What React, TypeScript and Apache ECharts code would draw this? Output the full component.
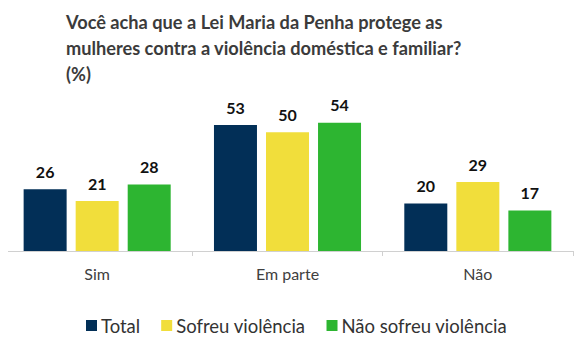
import React, { useEffect, useRef } from "react";
import * as echarts from "echarts";

const titleText = "Você acha que a Lei Maria da Penha protege as\nmulheres contra a violência doméstica e familiar?\n(%)";
const categories = ["Sim", "Em parte", "Não"];
const seriesNames = ["Total", "Sofreu violência", "Não sofreu violência"];
const totalValues = [26, 53, 20];
const sofreuValues = [21, 50, 29];
const naoSofreuValues = [28, 54, 17];
const colors = ["#022f57", "#f1de3b", "#2db531"];

export default function App() {
  const ref = useRef<HTMLDivElement>(null);
  useEffect(() => {
    if (!ref.current) return;
    const chart = echarts.init(ref.current, null, { renderer: "svg" });
    const data = [totalValues, sofreuValues, naoSofreuValues];
    chart.setOption({
      animation: false,
      backgroundColor: "#ffffff",
      title: {
        text: titleText,
        left: 61,
        top: 4,
        textStyle: {
          fontFamily: "Lato",
          fontWeight: "bold",
          fontSize: 18.2,
          lineHeight: 26,
          color: "#3b3b3b",
        },
      },
      legend: {
        left: 81,
        top: 311,
        icon: "rect",
        itemWidth: 11,
        itemHeight: 11,
        itemGap: 21,
        textStyle: { fontFamily: "Lato", fontSize: 18.5, color: "#333333", padding: [0, 0, 0, -1] },
        data: seriesNames,
      },
      grid: { left: 2, right: 13, top: 108.4, bottom: 113, containLabel: false },
      xAxis: {
        type: "category",
        data: categories,
        axisLine: { lineStyle: { color: "#d0d0d0" } },
        axisTick: { show: true, length: 5, lineStyle: { color: "#d0d0d0" } },
        axisLabel: { fontFamily: "Lato", fontSize: 16, color: "#404040", margin: 14 },
      },
      yAxis: {
        type: "value",
        min: 0,
        max: 60,
        show: false,
        splitLine: { show: false },
      },
      series: seriesNames.map((name, i) => ({
        name,
        type: "bar",
        data: data[i],
        barWidth: 43,
        barGap: "21%",
        itemStyle: { color: colors[i] },
        label: {
          show: true,
          position: "top",
          distance: 10,
          fontFamily: "Lato",
          fontWeight: "bold",
          fontSize: 16,
          color: "#111111",
        },
      })),
    });
    return () => chart.dispose();
  }, []);
  return <div ref={ref} style={{ width: 586, height: 364, margin: -8 }} />;
}
